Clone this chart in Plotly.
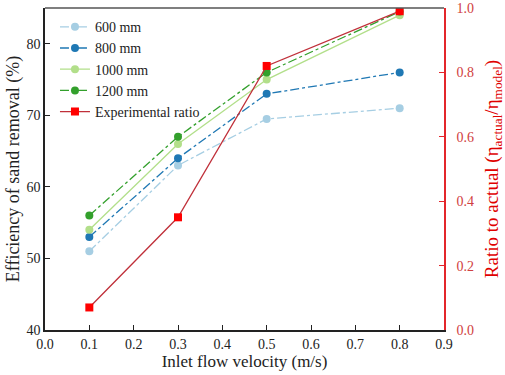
import plotly.graph_objects as go

velocity = [0.1, 0.3, 0.5, 0.8]
eff_600 = [51, 63, 69.5, 71]
eff_800 = [53, 64, 73, 76]
eff_1000 = [54, 66, 75, 84]
eff_1200 = [56, 67, 76, 84.5]
ratio_exp = [0.07, 0.35, 0.82, 0.99]

series = [
    ("600 mm", eff_600, "#a6cee3", "dashdot"),
    ("800 mm", eff_800, "#1f78b4", "dashdot"),
    ("1000 mm", eff_1000, "#b2df8a", "solid"),
    ("1200 mm", eff_1200, "#33a02c", "dashdot"),
]

FONT = "'Liberation Serif', 'Times New Roman', Times, serif"
RED = "#e3262b"

fig = go.Figure()
for name, vals, col, dash in series:
    fig.add_trace(go.Scatter(
        x=velocity, y=vals, name=name, mode="lines+markers",
        line=dict(color=col, width=1.3, dash=dash),
        marker=dict(color=col, size=8, symbol="circle"),
    ))
fig.add_trace(go.Scatter(
    x=velocity, y=ratio_exp, name="Experimental ratio", mode="lines+markers",
    yaxis="y2",
    line=dict(color="#c0303a", width=1.3),
    marker=dict(color="#ff0000", size=8, symbol="square"),
))

fig.update_layout(
    width=505, height=375,
    margin=dict(l=45, r=61, t=8, b=45, autoexpand=False),
    plot_bgcolor="white", paper_bgcolor="white",
    font=dict(family=FONT, size=14, color="#222"),
    showlegend=True,
    legend=dict(x=0.025, y=0.99, xanchor="left", yanchor="top",
                bgcolor="rgba(0,0,0,0)", font=dict(size=14, family=FONT),
                tracegroupgap=0, itemwidth=30),
    xaxis=dict(range=[0, 0.9], tickvals=[0, 0.1, 0.2, 0.3, 0.4, 0.5, 0.6, 0.7, 0.8, 0.9],
               ticktext=["0.0", "0.1", "0.2", "0.3", "0.4", "0.5", "0.6", "0.7", "0.8", "0.9"],
               showgrid=False, zeroline=False, showline=True, linecolor="#222", linewidth=1.5,
               ticks="inside", ticklen=5, tickcolor="#222", automargin=False,
               title=dict(text="Inlet flow velocity (m/s)", font=dict(size=17, family=FONT), standoff=2),
               tickfont=dict(size=14, family=FONT)),
    yaxis=dict(range=[40, 85], tickvals=[40, 50, 60, 70, 80],
               showgrid=False, zeroline=False, showline=True, linecolor="#222", linewidth=1.5,
               ticks="inside", ticklen=5, tickcolor="#222", automargin=False,
               title=dict(text="Efficiency of sand removal (%)", font=dict(size=18, family=FONT), standoff=2),
               tickfont=dict(size=14, family=FONT)),
    yaxis2=dict(range=[0, 1], overlaying="y", side="right",
                tickvals=[0, 0.2, 0.4, 0.6, 0.8, 1.0],
                ticktext=["0.0", "0.2", "0.4", "0.6", "0.8", "1.0"],
                showgrid=False, zeroline=False, showline=True, linecolor=RED, linewidth=1.5,
                ticks="inside", ticklen=5, tickcolor=RED, automargin=False,
                ticklabelstandoff=8,
                title=dict(text="Ratio to actual (η<sub>actual</sub>/η<sub>model</sub>)",
                           font=dict(size=19, family=FONT, color="#e00000"), standoff=12),
                tickfont=dict(size=14, family=FONT, color="#d04040")),
    shapes=[dict(type="line", xref="paper", yref="paper", x0=0, x1=1, y0=1, y1=1,
                 line=dict(color="#555", width=1.5))],
)

fig.write_html("out.html", config={"displayModeBar": False},
               post_script="document.body.style.margin='0';document.body.style.padding='0';document.body.style.overflow='hidden';")
